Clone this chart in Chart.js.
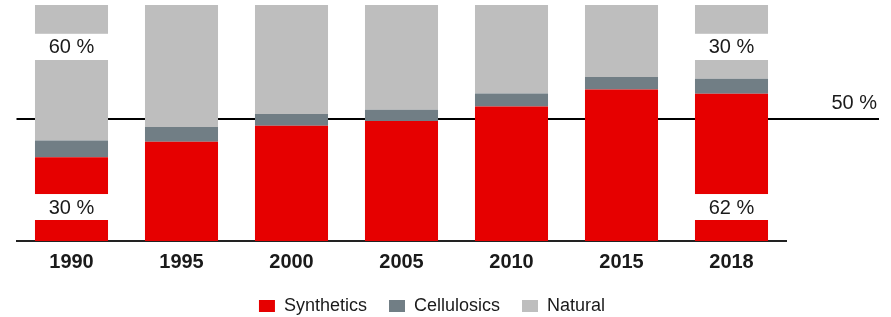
<!DOCTYPE html>
<html>
<head>
<meta charset="utf-8">
<script src="https://cdn.jsdelivr.net/npm/chart.js@4.4.1/dist/chart.umd.min.js"></script>
<style>
  html, body { margin: 0; padding: 0; background: #fff; }
  #wrap { width: 891px; height: 317px; }
</style>
</head>
<body>
<div id="wrap"><canvas id="chart" width="891" height="317"></canvas></div>
<script>
// Fibre market shares by year (in %).
const years = ["1990", "1995", "2000", "2005", "2010", "2015", "2018"];
const synthetics = [35.5, 42.1, 48.8, 50.9, 57.0, 64.2, 62.4];
const cellulosics = [7.1, 6.2, 5.0, 4.7, 5.5, 5.3, 6.4];
const natural = [57.4, 51.7, 46.2, 44.4, 37.5, 30.5, 31.2];

// white callout boxes on the first and last bar
const calloutBars = [0, 6];
const calloutTopText = ["60 %", "30 %"];
const calloutBottomText = ["30 %", "62 %"];
const calloutTopBand = [76.7, 87.8];
const calloutBottomBand = [8.9, 19.9];

const refLineValue = 51.6;
const refLineText = "50 %";

const FONT = "'Liberation Sans', Arial, sans-serif";
const INK = "#1a1a1a";

const refLine = {
  id: "refLine",
  beforeDatasetsDraw(chart) {
    const { ctx, chartArea, scales } = chart;
    const y = Math.round(scales.y.getPixelForValue(refLineValue));
    ctx.save();
    ctx.strokeStyle = "#000";
    ctx.lineWidth = 2;
    ctx.beginPath();
    ctx.moveTo(chartArea.left, y);
    ctx.lineTo(879, y);
    ctx.stroke();
    ctx.fillStyle = INK;
    ctx.font = `20px ${FONT}`;
    ctx.textAlign = "right";
    ctx.textBaseline = "middle";
    ctx.fillText(refLineText, 877, y - 16);
    ctx.restore();
  },
};

const callouts = {
  id: "callouts",
  afterDatasetsDraw(chart) {
    const { ctx, scales } = chart;
    const meta = chart.getDatasetMeta(0);
    ctx.save();
    ctx.font = `20px ${FONT}`;
    ctx.textAlign = "center";
    ctx.textBaseline = "middle";
    calloutBars.forEach((idx, i) => {
      const bar = meta.data[idx];
      const left = bar.x - bar.width / 2;
      [[calloutTopBand, calloutTopText[i]], [calloutBottomBand, calloutBottomText[i]]].forEach(([band, text]) => {
        const top = scales.y.getPixelForValue(band[1]);
        const bottom = scales.y.getPixelForValue(band[0]);
        ctx.fillStyle = "#fff";
        ctx.fillRect(left - 1, top, bar.width + 2, bottom - top);
        ctx.fillStyle = INK;
        ctx.fillText(text, bar.x, (top + bottom) / 2 + 1);
      });
    });
    ctx.restore();
  },
};

new Chart(document.getElementById("chart"), {
  type: "bar",
  data: {
    labels: years,
    datasets: [
      { label: "Synthetics", data: synthetics, backgroundColor: "#e60000" },
      { label: "Cellulosics", data: cellulosics, backgroundColor: "#717e85" },
      { label: "Natural", data: natural, backgroundColor: "#bebebe" },
    ],
  },
  options: {
    responsive: false,
    animation: false,
    devicePixelRatio: 1,
    layout: { padding: { left: 0, right: 27, top: 5, bottom: -8 } },
    datasets: { bar: { categoryPercentage: 1, barPercentage: 0.664, borderWidth: 0 } },
    scales: {
      x: {
        stacked: true,
        grid: { display: false, drawTicks: false },
        border: { display: true, color: "#222", width: 2 },
        ticks: { color: INK, padding: 9, font: { family: FONT, size: 20, weight: "bold" } },
        afterFit(axis) { axis.height -= 8; },
      },
      y: {
        stacked: true,
        min: 0,
        max: 100,
        grid: { display: false, drawTicks: false },
        border: { display: false },
        ticks: { display: false },
        afterFit(axis) { axis.width = 16.5; },
      },
      y2: {
        position: "right",
        min: 0,
        max: 100,
        grid: { display: false, drawTicks: false },
        border: { display: false },
        ticks: { display: false },
        afterFit(axis) { axis.width = 77.5; },
      },
    },
    plugins: {
      tooltip: { enabled: false },
      legend: {
        position: "bottom",
        labels: {
          color: INK,
          boxWidth: 16,
          boxHeight: 12,
          padding: 22,
          font: { family: FONT, size: 18 },
        },
      },
    },
  },
  plugins: [refLine, callouts],
});
</script>
</body>
</html>
